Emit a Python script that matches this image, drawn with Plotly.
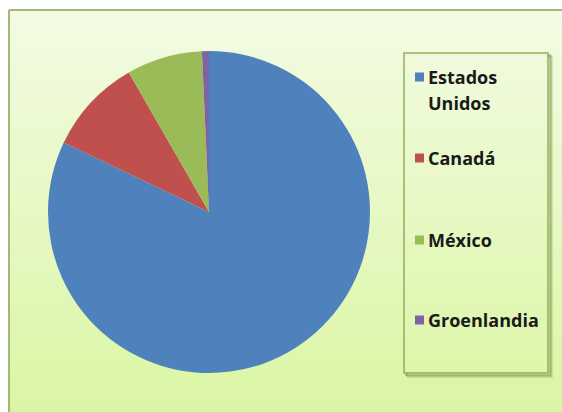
import plotly.graph_objects as go

# Share of each country (percent)
paises = ["Estados Unidos", "Canadá", "México", "Groenlandia"]
valores = [82.1, 9.6, 7.6, 0.7]
colores = ["#4F81BD", "#C0504D", "#9BBB59", "#8064A2"]

W, H = 562, 412


def px(x):
    return x / W


def py(y):
    return 1 - y / H


def mix(c1, c2, t):
    return "rgb({},{},{})".format(*[round(a + (b - a) * t) for a, b in zip(c1, c2)])


shapes = []

# Chart area background: vertical gradient, pale cream at the top to light green at the bottom
top_c, bot_c = (243, 251, 227), (218, 246, 164)
x0, y0, y1 = 9, 10, H
bands = 80
for i in range(bands):
    ya = y0 + (y1 - y0) * i / bands
    yb = y0 + (y1 - y0) * (i + 1) / bands + 0.6
    shapes.append(dict(type="rect", xref="paper", yref="paper",
                       x0=px(x0), x1=1, y0=py(yb), y1=py(ya),
                       fillcolor=mix(top_c, bot_c, i / (bands - 1)),
                       line=dict(width=0), layer="below"))

# Chart area border (top and left edges visible)
shapes.append(dict(type="line", xref="paper", yref="paper",
                   x0=px(9), x1=1, y0=py(10), y1=py(10),
                   line=dict(color="#a3b77a", width=2), layer="below"))
shapes.append(dict(type="line", xref="paper", yref="paper",
                   x0=px(9), x1=px(9), y0=py(10), y1=0,
                   line=dict(color="#a3b77a", width=2), layer="below"))

# Legend box with a soft shadow
lx0, lx1, ly0, ly1 = 404, 548, 53, 373
for off, op in [(4, 0.18), (3, 0.3), (2, 0.4)]:
    shapes.append(dict(type="rect", xref="paper", yref="paper",
                       x0=px(lx0 + off), x1=px(lx1 + off),
                       y0=py(ly1 + off), y1=py(ly0 + off),
                       line=dict(color="rgba(110,140,60,{})".format(op), width=2),
                       fillcolor="rgba(0,0,0,0)", layer="below"))
# Inner part of the box keeps the background gradient
for i in range(bands):
    ya = y0 + (y1 - y0) * i / bands
    yb = y0 + (y1 - y0) * (i + 1) / bands + 0.6
    a, b = max(ya, ly0), min(yb, ly1)
    if a < b:
        shapes.append(dict(type="rect", xref="paper", yref="paper",
                           x0=px(lx0), x1=px(lx1), y0=py(b), y1=py(a),
                           fillcolor=mix(top_c, bot_c, i / (bands - 1)),
                           line=dict(width=0), layer="below"))
shapes.append(dict(type="rect", xref="paper", yref="paper",
                   x0=px(lx0), x1=px(lx1), y0=py(ly1), y1=py(ly0),
                   line=dict(color="#93ad5c", width=1.5),
                   fillcolor="rgba(0,0,0,0)", layer="below"))

annotations = []
item_y = [77, 158, 240, 320]
for nombre, color, yc in zip(paises, colores, item_y):
    shapes.append(dict(type="rect", xref="paper", yref="paper",
                       x0=px(415), x1=px(424), y0=py(yc + 4.5), y1=py(yc - 4.5),
                       fillcolor=color, line=dict(width=0)))
    for k, linea in enumerate(nombre.split(" ")):
        annotations.append(dict(text="<b>" + linea + "</b>", xref="paper", yref="paper",
                                x=px(426), y=py(yc + 26 * k), xanchor="left", yanchor="middle",
                                showarrow=False,
                                font=dict(family="Open Sans", size=18, color="#1a1a1a")))

cx, cy, r = 209, 212, 161
fig = go.Figure(go.Pie(
    labels=paises, values=valores, sort=False, direction="clockwise", rotation=0,
    marker=dict(colors=colores, line=dict(width=0)),
    textinfo="none", hoverinfo="label+percent", showlegend=False,
    domain=dict(x=[px(cx - r), px(cx + r)], y=[py(cy + r), py(cy - r)]),
))

fig.update_layout(
    width=W, height=H, margin=dict(l=0, r=0, t=0, b=0),
    paper_bgcolor="white", plot_bgcolor="white",
    shapes=shapes, annotations=annotations,
)

fig.write_html("out.html")
